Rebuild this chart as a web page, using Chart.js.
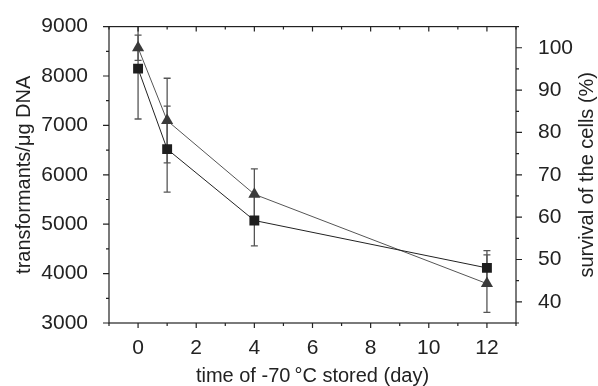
<!DOCTYPE html>
<html>
<head>
<meta charset="utf-8">
<script src="https://cdn.jsdelivr.net/npm/chart.js@4"></script>
<style>
  html, body { margin: 0; padding: 0; background: #fff; }
</style>
</head>
<body>
<canvas id="chart" width="598" height="386"></canvas>
<script>
const days = [0, 1, 4, 12];
const transformants = [8150, 6520, 5075, 4115];
const transformantsErr = [1020, 870, 515, 350];
const survival = [100, 82.8, 65.4, 44.3];
const survivalErr = [3, 10, 6, 6.8];

const xTicks = [0, 2, 4, 6, 8, 10, 12];
const leftTicks = [3000, 4000, 5000, 6000, 7000, 8000, 9000];
const rightTicks = [40, 50, 60, 70, 80, 90, 100];

const font = { family: "'Liberation Sans', Arial, sans-serif", size: 20 };
const tickFont = { family: "'Liberation Sans', Arial, sans-serif", size: 21 };
const ink = "#222";
const rightTitle = "survival of the cells (%)";

// error bars, drawn under the markers, clipped to the plot box
const errorBars = {
  id: "errorBars",
  beforeDatasetsDraw(chart) {
    const { ctx, chartArea: a, scales } = chart;
    ctx.save();
    ctx.beginPath();
    ctx.rect(a.left, a.top, a.right - a.left, a.bottom - a.top);
    ctx.clip();
    ctx.strokeStyle = "#555";
    ctx.lineWidth = 1.3;
    const sets = [
      [transformants, transformantsErr, scales.y],
      [survival, survivalErr, scales.y2],
    ];
    sets.forEach(([vals, errs, s]) => {
      days.forEach((d, i) => {
        const px = scales.x.getPixelForValue(d);
        const top = s.getPixelForValue(vals[i] + errs[i]);
        const bot = s.getPixelForValue(vals[i] - errs[i]);
        ctx.beginPath();
        ctx.moveTo(px, top); ctx.lineTo(px, bot);
        ctx.moveTo(px - 3.5, top); ctx.lineTo(px + 3.5, top);
        ctx.moveTo(px - 3.5, bot); ctx.lineTo(px + 3.5, bot);
        ctx.stroke();
      });
    });
    ctx.restore();
  },
};

// box + major/minor tick marks, and the right title read bottom-to-top
const frameTicks = {
  id: "frameTicks",
  afterDraw(chart) {
    const { ctx, chartArea: a, scales } = chart;
    ctx.save();
    ctx.strokeStyle = ink;
    ctx.lineWidth = 1.2;
    ctx.strokeRect(a.left, a.top, a.right - a.left, a.bottom - a.top);
    ctx.beginPath();
    for (let v = -1; v <= 13; v++) {
      const px = scales.x.getPixelForValue(v);
      const len = v % 2 === 0 ? 5 : 3;
      ctx.moveTo(px, a.bottom); ctx.lineTo(px, a.bottom + len);
      ctx.moveTo(px, a.top); ctx.lineTo(px, a.top + len);
    }
    for (let v = 3000; v <= 9000; v += 500) {
      const py = scales.y.getPixelForValue(v);
      const len = v % 1000 === 0 ? 6 : 3;
      ctx.moveTo(a.left, py); ctx.lineTo(a.left - len, py);
    }
    for (let v = 35; v <= 105; v += 5) {
      const py = scales.y2.getPixelForValue(v);
      const len = v % 10 === 0 ? 6 : 3;
      ctx.moveTo(a.right, py); ctx.lineTo(a.right + len, py);
    }
    ctx.stroke();

    ctx.translate(587, (a.top + a.bottom) / 2);
    ctx.rotate(-Math.PI / 2);
    ctx.fillStyle = ink;
    ctx.font = "20px 'Liberation Sans', Arial, sans-serif";
    ctx.textAlign = "center";
    ctx.textBaseline = "middle";
    ctx.fillText(rightTitle, 0, 0);
    ctx.restore();
  },
};

const data = {
  datasets: [
    {
      label: "transformants",
      data: days.map((d, i) => ({ x: d, y: transformants[i] })),
      yAxisID: "y",
      borderColor: "#222",
      borderWidth: 1,
      pointStyle: "rect",
      pointRadius: 7,
      pointBackgroundColor: "#1e1e1e",
      pointBorderWidth: 0,
    },
    {
      label: "survival",
      data: days.map((d, i) => ({ x: d, y: survival[i] })),
      yAxisID: "y2",
      borderColor: "#555",
      borderWidth: 1,
      pointStyle: "triangle",
      pointRadius: 7,
      pointBackgroundColor: "#3a3a3a",
      pointBorderWidth: 0,
    },
  ],
};

const plain = (v) => String(v);

const config = {
  type: "line",
  data: data,
  plugins: [errorBars, frameTicks],
  options: {
    responsive: false,
    animation: false,
    layout: { padding: { top: 20, left: 0, right: 0, bottom: 0 } },
    plugins: { legend: { display: false }, tooltip: { enabled: false } },
    scales: {
      x: {
        type: "linear",
        min: -1,
        max: 13,
        afterBuildTicks: (s) => { s.ticks = xTicks.map((v) => ({ value: v })); },
        afterFit: (s) => { s.height = 63; },
        grid: { display: false },
        border: { display: false },
        ticks: { padding: 5, color: ink, font: tickFont, maxRotation: 0, callback: plain },
        title: {
          display: true,
          text: "time of -70\u2009°C stored (day)",
          color: ink,
          font: { ...font, lineHeight: 1 },
          padding: { top: 0, bottom: 0 },
        },
      },
      y: {
        position: "left",
        min: 3000,
        max: 9000,
        afterBuildTicks: (s) => { s.ticks = leftTicks.map((v) => ({ value: v })); },
        afterFit: (s) => { s.width = 109; },
        grid: { display: false },
        border: { display: false },
        ticks: { padding: 13, color: ink, font: tickFont, callback: plain },
        title: {
          display: true,
          text: "transformants/μg DNA",
          color: ink,
          font: font,
          padding: { top: 12, bottom: 0 },
        },
      },
      y2: {
        position: "right",
        min: 35,
        max: 105,
        afterBuildTicks: (s) => { s.ticks = rightTicks.map((v) => ({ value: v })); },
        afterFit: (s) => { s.width = 82; },
        grid: { display: false },
        border: { display: false },
        ticks: { padding: 14, color: ink, font: tickFont, callback: plain },
      },
    },
  },
};

const myChart = new Chart(document.getElementById("chart"), config);
</script>
</body>
</html>
